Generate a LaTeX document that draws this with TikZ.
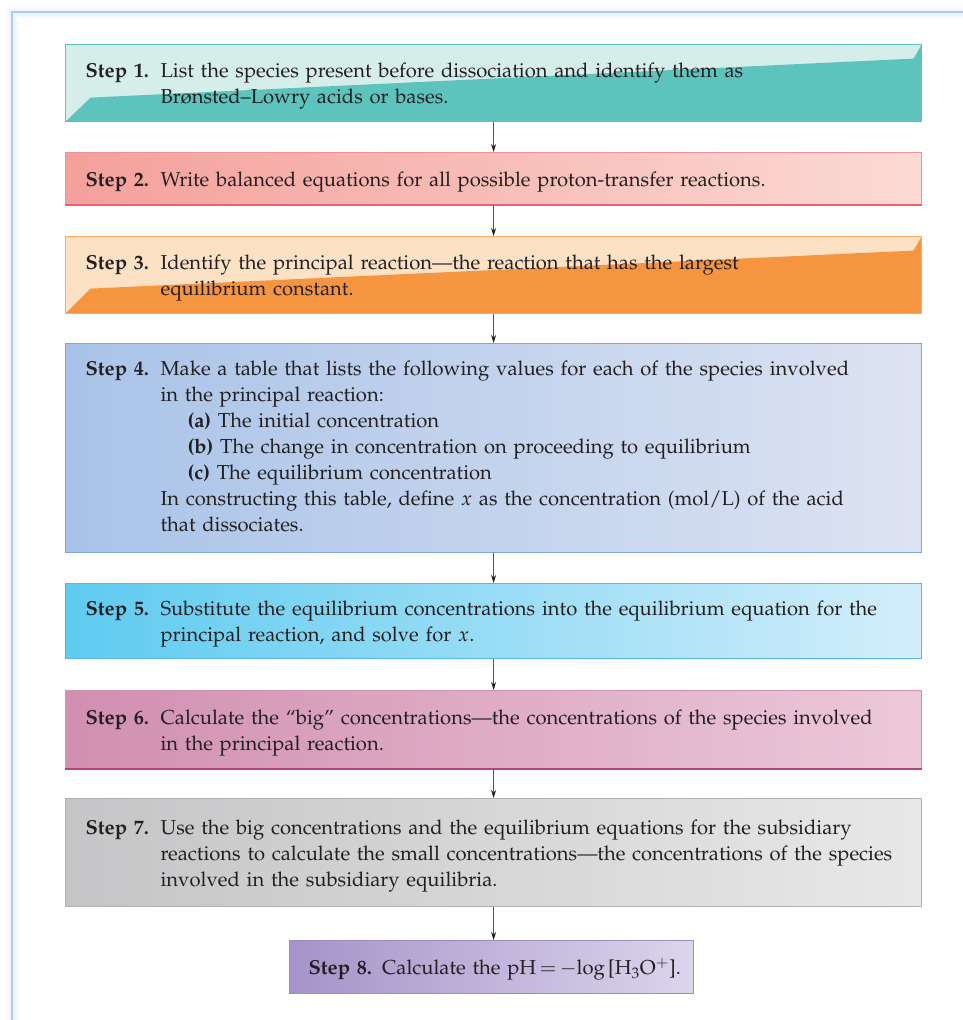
\documentclass[tikz,border=0pt]{standalone}
\usepackage[T1]{fontenc}
\usepackage{mathpazo}
\usetikzlibrary{arrows.meta,calc}
\definecolor{txt}{HTML}{231F20}
\definecolor{arrowgray}{HTML}{555555}
\definecolor{frame}{HTML}{A9CDEF}
\definecolor{glow}{HTML}{D6E6F7}
\definecolor{aLight}{HTML}{D5EEEA}
\definecolor{aDark}{HTML}{5CC4BD}
\definecolor{bLeft}{HTML}{F4A09B}
\definecolor{bRight}{HTML}{FCDAD5}
\definecolor{bLine}{HTML}{E8636E}
\definecolor{cLight}{HTML}{FDE1C5}
\definecolor{cDark}{HTML}{F69540}
\definecolor{dLeft}{HTML}{A9C3E8}
\definecolor{dRight}{HTML}{DDE3F2}
\definecolor{dLine}{HTML}{7EA6DA}
\definecolor{eLeft}{HTML}{5ECBF0}
\definecolor{eRight}{HTML}{D3EEFB}
\definecolor{eLine}{HTML}{56B8E0}
\definecolor{fLeft}{HTML}{D18FB1}
\definecolor{fRight}{HTML}{ECC9D9}
\definecolor{fLine}{HTML}{B0467A}
\definecolor{gLeft}{HTML}{C5C5C7}
\definecolor{gRight}{HTML}{E8E8E8}
\definecolor{gLine}{HTML}{B0B0B0}
\definecolor{hLeft}{HTML}{A593C9}
\definecolor{hRight}{HTML}{DBD5EC}
\definecolor{hLine}{HTML}{9B8CC2}
\newcommand\stp[3][-3pt]{\raisebox{#1}[\height][\depth]{\makebox[75pt][l]{\bfseries Step #2.}\parbox[t]{740pt}{#3}}}
\begin{document}
\begin{tikzpicture}[x=1pt,y=-1pt,
  stepbox/.style={rectangle, anchor=north west, minimum width=856pt,
    inner xsep=20pt, inner ysep=0pt, text width=816pt, align=left,
    font=\fontsize{20.2}{26}\selectfont, text=txt, line width=1.2pt},
  flow/.style={draw=arrowgray, line width=0.9pt, -{Stealth[length=8pt,width=5pt,color=txt]}}]
\useasboundingbox (0,0) rectangle (962,1020);
% outer frame with glow
\foreach \w/\o in {14/0.12,9/0.18,5/0.3}{
  \draw[glow, line width=\w pt, opacity=\o] (12,1040) -- (12,12) -- (980,12);}
\draw[frame, line width=1.5pt] (12,1040) -- (12,12) -- (980,12);

% Step 1
\node[stepbox, minimum height=77pt, fill=aLight, draw=aDark,
  path picture={\fill[aDark] (path picture bounding box.south west) -- ++(25,-24)
    -- ($(path picture bounding box.north east)+(-8,14)$)
    -- (path picture bounding box.north east) -- (path picture bounding box.south east) -- cycle;}]
  (s1) at (65,44) {\stp{1}{List the species present before dissociation and identify them as\\
  Br\o nsted--Lowry acids or bases.}};
% Step 2
\node[stepbox, minimum height=52pt, left color=bLeft, right color=bRight, draw=bLine!70]
  (s2) at (65,152) {\stp{2}{Write balanced equations for all possible proton-transfer reactions.}};
\draw[bLine, line width=2pt] (s2.south west) -- (s2.south east);
% Step 3
\node[stepbox, minimum height=77pt, fill=cLight, draw=cDark!80,
  path picture={\fill[cDark] (path picture bounding box.south west) -- ++(25,-25)
    -- ($(path picture bounding box.north east)+(-8,14)$)
    -- (path picture bounding box.north east) -- (path picture bounding box.south east) -- cycle;}]
  (s3) at (65,236) {\stp{3}{Identify the principal reaction---the reaction that has the largest\\
  equilibrium constant.}};
% Step 4
\node[stepbox, minimum height=209pt, left color=dLeft, right color=dRight, draw=dLine]
  (s4) at (65,343) {\stp[2pt]{4}{Make a table that lists the following values for each of the species involved\\
  in the principal reaction:\\
  \hspace*{27pt}\textbf{(a)} The initial concentration\\
  \hspace*{27pt}\textbf{(b)} The change in concentration on proceeding to equilibrium\\
  \hspace*{27pt}\textbf{(c)} The equilibrium concentration\\
  In constructing this table, define $x$ as the concentration (mol/L) of the acid\\
  that dissociates.}};
% Step 5
\node[stepbox, minimum height=75pt, left color=eLeft, right color=eRight, draw=eLine]
  (s5) at (65,583) {\stp{5}{Substitute the equilibrium concentrations into the equilibrium equation for the\\
  principal reaction, and solve for $x$.}};
% Step 6
\node[stepbox, minimum height=78pt, left color=fLeft, right color=fRight, draw=fLine!60]
  (s6) at (65,690) {\stp{6}{Calculate the ``big'' concentrations---the concentrations of the species involved\\
  in the principal reaction.}};
\draw[fLine, line width=2pt] (s6.south west) -- (s6.south east);
% Step 7
\node[stepbox, minimum height=108pt, left color=gLeft, right color=gRight, draw=gLine]
  (s7) at (65,798) {\stp{7}{Use the big concentrations and the equilibrium equations for the subsidiary\\
  reactions to calculate the small concentrations---the concentrations of the species\\
  involved in the subsidiary equilibria.}};
% Step 8
\node[rectangle, anchor=north west, minimum width=404pt, minimum height=53pt, inner xsep=19pt,
  text width=366pt, align=left,
  font=\fontsize{20.2}{26}\selectfont, text=txt, line width=1.2pt,
  left color=hLeft, right color=hRight, draw=hLine]
  (s8) at (289,940) {\raisebox{-2pt}[\height][\depth]{\textbf{Step 8.}\ \,Calculate the pH\,$=$\,$-$log\,[H$_3$O$^+$].}};

% connectors
\draw[flow] (s1.south) -- (s2.north);
\draw[flow] (s2.south) -- (s3.north);
\draw[flow] (s3.south) -- (s4.north);
\draw[flow] (s4.south) -- (s5.north);
\draw[flow] (s5.south) -- (s6.north);
\draw[flow] (s6.south) -- (s7.north);
\draw[flow] (s7.south) -- (s7.south |- s8.north);
\end{tikzpicture}
\end{document}
